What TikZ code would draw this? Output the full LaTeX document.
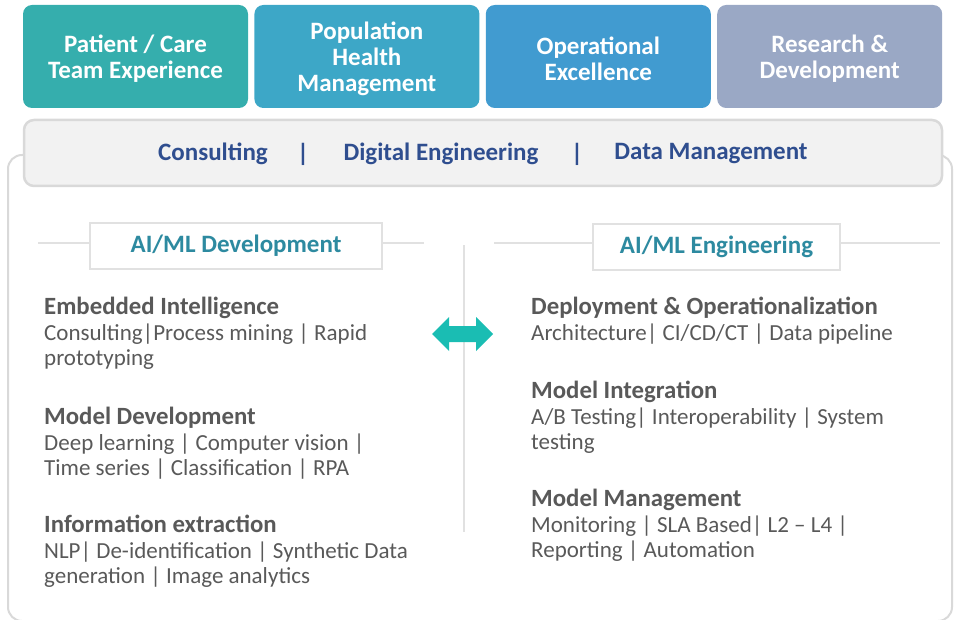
\documentclass[tikz,border=0pt]{standalone}
\usepackage{fontspec}
\setmainfont{Carlito}
\usepackage{xcolor}
\usetikzlibrary{positioning}

\definecolor{pillarA}{RGB}{53,174,173}
\definecolor{pillarB}{RGB}{61,167,199}
\definecolor{pillarC}{RGB}{65,155,208}
\definecolor{pillarD}{RGB}{154,168,197}
\definecolor{bandfill}{RGB}{242,242,242}
\definecolor{bandline}{RGB}{217,217,217}
\definecolor{navy}{RGB}{47,78,143}
\definecolor{labelteal}{RGB}{45,138,160}
\definecolor{arrowteal}{RGB}{26,189,179}
\definecolor{textgray}{RGB}{89,89,89}
\definecolor{rulegray}{RGB}{225,225,225}

\newcommand{\blockhead}[1]{{\fontsize{24.8}{25.5}\selectfont\bfseries #1}}

\begin{document}
\begin{tikzpicture}[x=1pt,y=-1pt,
  pillar/.style={rounded corners=9pt, minimum width=225pt, minimum height=103pt, inner sep=0pt},
  pilltext/.style={text=white, align=center, font=\fontsize{25}{26}\selectfont\bfseries},
  bandtxt/.style={text=navy, font=\fontsize{25}{25}\selectfont\bfseries},
  lblbox/.style={draw=rulegray, line width=2pt, fill=white, minimum height=45pt,
    text=labelteal, font=\fontsize{25}{25}\selectfont\bfseries},
  block/.style={anchor=north west, inner sep=0pt, align=left, text=textgray,
    font=\fontsize{23}{25.5}\selectfont},
  rule/.style={draw=rulegray, line width=1.5pt}]
\useasboundingbox (0,0) rectangle (955,620);

% top row
\node[pillar, fill=pillarA] (care) at (135.5,56.5) {};
\node[pillar, fill=pillarB, right=6pt of care] (pop) {};
\node[pillar, fill=pillarC, right=6pt of pop] (ops) {};
\node[pillar, fill=pillarD, right=6pt of ops] (rnd) {};
\node[pilltext] (caretxt) at ([yshift=-2.5pt]care.center) {Patient / Care\\Team Experience};
\node[pilltext] (poptxt) at ([yshift=-2.5pt]pop.center) {Population\\Health\\Management};
\node[pilltext] (opstxt) at ([yshift=-2.5pt]ops.center) {Operational\\Excellence};
\node[pilltext] (rndtxt) at ([yshift=-2.5pt]rnd.center) {Research \&\\Development};

% outer frame and band
\draw[draw=bandline, line width=2pt, rounded corners=14pt] (8,155) rectangle (952,621);
\node[draw=bandline, line width=2.5pt, fill=bandfill, rounded corners=10pt,
  minimum width=918pt, minimum height=66pt] (band) at (483,153) {};
\node[bandtxt] (cons) at (213,154) {Consulting};
\node[bandtxt] (sepA) at (303,154) {|};
\node[bandtxt] (dig) at (441,154) {Digital Engineering};
\node[bandtxt] (sepB) at (577,154) {|};
\node[bandtxt] (dat) at (711,154) {Data Management};

% section labels
\node[lblbox, minimum width=292pt] (devlbl) at (236,246) {AI/ML Development};
\node[lblbox, minimum width=247pt] (englbl) at (716.5,247) {AI/ML Engineering};
\draw[rule] (38,243) -- (devlbl.west |- 0,243);
\draw[rule] (devlbl.east |- 0,243) -- (424,243);
\draw[rule] (494,243) -- (englbl.west |- 0,243);
\draw[rule] (englbl.east |- 0,243) -- (940,243);

% divider and arrow
\draw[rule] (464,245) -- (464,532);
\begin{scope}[shift={(462.5,334)}]
\fill[arrowteal] (-30.5,0) -- (-13.5,-17) -- (-13.5,-8) -- (13.5,-8) -- (13.5,-17)
  -- (30.5,0) -- (13.5,17) -- (13.5,8) -- (-13.5,8) -- (-13.5,17) -- cycle;
\end{scope}

% left column
\node[block] (emb) at (44,297) {\blockhead{Embedded Intelligence}\\Consulting|Process mining | Rapid\\prototyping};
\node[block] (mdev) at (44,407) {\blockhead{Model Development}\\Deep learning | Computer vision |\\Time series | Classification | RPA};
\node[block] (info) at (44,515) {\blockhead{Information extraction}\\NLP| De-identification | Synthetic Data\\generation | Image analytics};

% right column
\node[block] (depl) at (531,297) {\blockhead{Deployment \& Operationalization}\\Architecture| CI/CD/CT | Data pipeline};
\node[block] (mint) at (531,381) {\blockhead{Model Integration}\\A/B Testing| Interoperability | System\\testing};
\node[block] (mman) at (531,489) {\blockhead{Model Management}\\Monitoring | SLA Based| L2 – L4 |\\Reporting | Automation};
\end{tikzpicture}
\end{document}
